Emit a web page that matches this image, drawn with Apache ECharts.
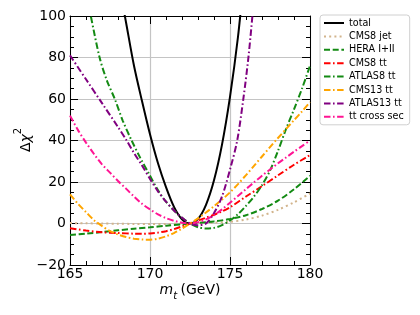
<!DOCTYPE html>
<html>
<head>
<meta charset="utf-8">
<script src="https://cdn.jsdelivr.net/npm/echarts@6/dist/echarts.min.js"></script>
<style>html,body{margin:0;padding:0;background:#fff}#c{width:420px;height:315px}</style>
</head>
<body>
<div id="c"></div>
<script>
// ---- data ----
const seriesNames = ['total', 'CMS8 jet', 'HERA I+II', 'CMS8 tt', 'ATLAS8 tt', 'CMS13 tt', 'ATLAS13 tt', 'tt cross sec'];
const xTicks = [165, 170, 175, 180];
const yTicks = [-20, 0, 20, 40, 60, 80, 100];

const total = [[168.0,118],[168.5,97],[169.0,76],[169.5,59],[170.0,43],[170.5,29],[171.0,17.5],[171.5,8],[172.0,2],[172.5,0],[173.0,2.2],[173.5,9],[174.0,20.8],[174.5,38],[175.0,61],[175.5,90],[175.8,113]];
const cms8jet = [[165,0.2],[166,0.1],[167,0],[168,-0.1],[169,-0.2],[170,-0.2],[171,-0.2],[172,-0.1],[172.5,0],[173,0.1],[174,0.4],[175,0.8],[176,1.9],[177,3.8],[178,6.6],[179,10.2],[180,14.5]];
const hera = [[165,-5.6],[166,-4.9],[167,-4.1],[168,-3.3],[169,-2.5],[170,-1.8],[171,-1.1],[172,-0.4],[172.5,0],[173,0.3],[174,1.0],[175,2.2],[176,4.0],[177,7.0],[178,11.0],[179,16.5],[180,23.0]];
const cms8tt = [[165,-2.3],[166,-3.4],[167,-4.2],[168,-4.6],[169,-4.9],[169.5,-5.0],[170,-4.8],[170.5,-4.4],[171,-3.7],[171.5,-2.7],[172,-1.4],[172.5,0],[173,1.4],[173.5,2.8],[174,4.2],[174.5,5.8],[175,7.8],[176,13],[177,18],[178,23.2],[179,28.3],[180,33]];
const atlas8tt = [[166.0,112],[166.3,100],[166.85,80],[167.3,69],[167.8,60],[168.3,49.5],[168.85,40],[169.4,31.5],[169.9,24.5],[170.5,16],[171,10.5],[171.5,6.3],[172,2.8],[172.5,0],[173,-1.8],[173.5,-2.4],[174,-2.1],[174.5,-0.8],[175,1.5],[175.5,4.5],[176,8.5],[176.5,13],[177,18.5],[177.5,25.5],[178,35],[178.5,45.5],[179,55],[179.5,65],[180,76]];
const cms13tt = [[165,14],[165.5,9.5],[166,5.5],[166.5,1.6],[167,-1.2],[167.5,-3.7],[168,-5.3],[168.5,-6.5],[169,-7.3],[169.5,-7.7],[170,-7.8],[170.5,-7.3],[171,-6.2],[171.5,-4.6],[172,-2.5],[172.5,0],[173,2.5],[173.5,5.3],[174,8.3],[174.5,11.5],[175,15],[175.5,19],[176,23.3],[176.5,27.8],[177,32.3],[177.5,36.8],[178,41.2],[178.5,45.5],[179,49.8],[179.5,54],[180,58.5]];
const atlas13tt = [[165,81],[166,69.5],[167,58],[168,46.5],[168.5,40.5],[169,34],[169.5,28],[170,21.5],[170.5,15.5],[171,10.5],[171.5,6.3],[172,2.8],[172.5,0],[173,-0.8],[173.5,0],[174,5],[174.5,13],[175,26],[175.45,40],[175.85,61],[176.15,80],[176.4,100],[176.6,118]];
const ttxsec = [[165,52],[165.5,45],[166,39],[166.5,33.5],[167,28.5],[167.5,24.5],[168,20.5],[168.5,16.8],[169,13],[169.5,9.5],[170,6.8],[170.5,4.4],[171,2.6],[171.5,1.3],[172,0.4],[172.5,0],[173,0.6],[173.5,2],[174,4],[174.5,6.8],[175,10],[175.5,13.3],[176,16.6],[176.5,19.8],[177,23],[177.5,26],[178,29],[178.5,31.8],[179,34.6],[179.5,37.3],[180,40]];

// ---- styling ----
const FONT = 'DejaVu Sans';
const dashdot = [6.5, 2.5, 1.6, 2.5];
const styles = [
  {data: total,    color: '#000000', type: 'solid'},
  {data: cms8jet,  color: '#d2b48c', type: [2, 3.2]},
  {data: hera,     color: '#138a13', type: [6, 2.7]},
  {data: cms8tt,   color: '#ff0000', type: dashdot},
  {data: atlas8tt, color: '#138a13', type: dashdot},
  {data: cms13tt,  color: '#ffa500', type: dashdot},
  {data: atlas13tt,color: '#800080', type: dashdot},
  {data: ttxsec,   color: '#ff1493', type: dashdot}
];

const series = styles.map((s, i) => ({
  name: seriesNames[i],
  type: 'line',
  data: s.data,
  xAxisIndex: 0, yAxisIndex: 0,
  showSymbol: false, symbol: 'none',
  smooth: 0.3,
  clip: true,
  color: s.color,
  itemStyle: {color: s.color, opacity: 0},
  lineStyle: {color: s.color, width: 2, type: s.type},
  z: 2 + i
}));

const minus = v => String(v).replace('-', '\u2212');
const baseX = {type: 'value', min: 165, max: 180, interval: 5};
const baseY = {type: 'value', min: -20, max: 100, interval: 20};
const tickCommon = {
  axisLine: {show: true, onZero: false, lineStyle: {color: '#000', width: 1}},
  axisTick: {show: true, inside: true, length: 8, lineStyle: {color: '#000', width: 1}},
  minorTick: {show: true, length: 4, lineStyle: {color: '#000', width: 1}}
};

const chart = echarts.init(document.getElementById('c'), null, {renderer: 'canvas'});
chart.setOption({
  animation: false,
  backgroundColor: '#fff',
  grid: {left: 70, right: 110, top: 16, bottom: 50, containLabel: false},
  xAxis: [
    Object.assign({}, baseX, tickCommon, {
      position: 'bottom',
      minorTick: Object.assign({}, tickCommon.minorTick, {splitNumber: 5}),
      axisLabel: {show: true, margin: 2, color: '#000', fontFamily: FONT, fontSize: 14,
        formatter: v => xTicks.includes(v) ? String(v) : ''},
      splitLine: {show: true, lineStyle: {color: '#c4c4c4', width: 1.2}}
    }),
    Object.assign({}, baseX, tickCommon, {
      position: 'top',
      minorTick: Object.assign({}, tickCommon.minorTick, {splitNumber: 5}),
      axisLabel: {show: false}, splitLine: {show: false}
    })
  ],
  yAxis: [
    Object.assign({}, baseY, tickCommon, {
      position: 'left',
      minorTick: Object.assign({}, tickCommon.minorTick, {splitNumber: 4}),
      axisLabel: {show: true, margin: 4, color: '#000', fontFamily: FONT, fontSize: 14,
        formatter: v => yTicks.includes(v) ? minus(v) : ''},
      splitLine: {show: true, lineStyle: {color: '#c4c4c4', width: 1.2}}
    }),
    Object.assign({}, baseY, tickCommon, {
      position: 'right',
      minorTick: Object.assign({}, tickCommon.minorTick, {splitNumber: 4}),
      axisLabel: {show: false}, splitLine: {show: false}
    })
  ],
  legend: {
    show: true,
    data: seriesNames,
    orient: 'vertical',
    left: 320, top: 15,
    itemWidth: 20, itemHeight: 10, itemGap: 3.4,
    padding: [3, 6, 3, 3],
    borderColor: '#d0d0d0', borderWidth: 1, borderRadius: 3,
    backgroundColor: '#fff',
    selectedMode: false,
    itemStyle: {opacity: 0, borderWidth: 0},
    lineStyle: {width: 2},
    textStyle: {fontFamily: FONT, fontSize: 9.6, color: '#000'}
  },
  graphic: [
    {
      type: 'text', x: 190, y: 292,
      style: {
        text: '{i|m}{s|t} {n|(GeV)}',
        align: 'center', verticalAlign: 'middle',
        rich: {
          i: {fontFamily: FONT, fontStyle: 'italic', fontSize: 14, lineHeight: 18, verticalAlign: 'top', fill: '#000'},
          s: {fontFamily: FONT, fontStyle: 'italic', fontSize: 10, lineHeight: 18, verticalAlign: 'bottom', fill: '#000'},
          n: {fontFamily: FONT, fontSize: 14, lineHeight: 18, verticalAlign: 'top', fill: '#000'}
        }
      }
    },
    {
      type: 'text', x: 23, y: 140, rotation: Math.PI / 2,
      style: {
        text: '{n|\u0394}{i|\u03c7}{p|2}',
        align: 'center', verticalAlign: 'middle',
        rich: {
          n: {fontFamily: FONT, fontSize: 14, lineHeight: 20, verticalAlign: 'bottom', fill: '#000'},
          i: {fontFamily: FONT, fontStyle: 'italic', fontSize: 14, lineHeight: 20, verticalAlign: 'bottom', fill: '#000'},
          p: {fontFamily: FONT, fontSize: 10, lineHeight: 20, verticalAlign: 'top', fill: '#000'}
        }
      }
    }
  ],
  series: series
});
</script>
</body>
</html>
